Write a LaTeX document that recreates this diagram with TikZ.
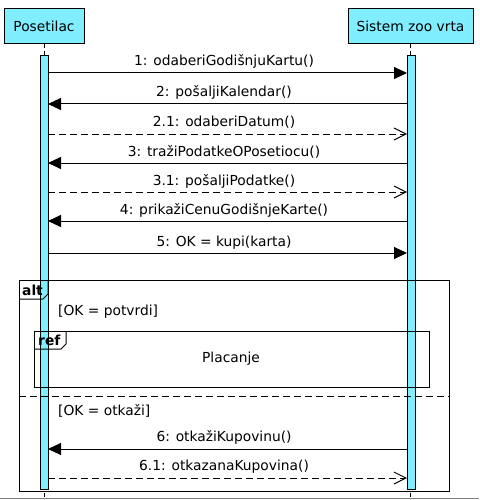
\documentclass[tikz,border=0pt]{standalone}
\usepackage{fontspec}
\setmainfont{DejaVu Sans}
\usetikzlibrary{arrows.meta}
\definecolor{lcyan}{RGB}{128,238,255}
\tikzset{
  part/.style={draw=black, fill=lcyan, line width=1pt, minimum width=80pt, minimum height=35pt, inner sep=0pt, font=\fontsize{13.8}{16}\selectfont},
  actbar/.style={draw=black, fill=lcyan, line width=1pt},
  life/.style={draw=black, line width=1pt, dash pattern=on 4pt off 3pt},
  msg/.style={draw=black, line width=1pt, -{Triangle[length=13pt,width=12pt]}},
  ret/.style={draw=black, line width=1pt, dash pattern=on 7pt off 4pt, -{Straight Barb[length=12pt,width=12pt,line width=1pt]}},
  lbl/.style={font=\fontsize{13.8}{16}\selectfont, inner sep=0pt, anchor=base},
  frame/.style={draw=black, line width=1pt},
  guard/.style={font=\fontsize{13.8}{16}\selectfont, inner sep=0pt, anchor=base west},
  tab/.style={font=\bfseries\fontsize{13.8}{16}\selectfont, inner sep=0pt, anchor=base west}
}
\begin{document}
\begin{tikzpicture}[x=1pt,y=-1pt]
\useasboundingbox (0,0) rectangle (479,500);
\fill[white] (0,0) rectangle (479,500);
% participants
\node[part, minimum width=80pt] (P) at (44,26.5) {Posetilac};
\node[part, minimum width=125pt] (S) at (410.5,26.5) {Sistem zoo vrta};
% lifelines
\coordinate (Pend) at (44,500);
\coordinate (Send) at (410.5,500);
\draw[life] (P.south) -- (Pend);
\draw[life] (S.south) -- (Send);
% activation bars
\node[actbar, minimum width=8pt, minimum height=433pt, inner sep=0pt] (aP) at (44,272.5) {};
\node[actbar, minimum width=8pt, minimum height=433pt, inner sep=0pt] (aS) at (411,272.5) {};
% message coordinates
\foreach \n/\y in {1/73,2/104,21/134,3/163,31/192,4/221,5/253,6/449,61/478}{
  \coordinate (p\n) at (48,\y);
  \coordinate (s\n) at (407,\y);
}
\draw[msg] (p1) -- (s1);
\node[lbl] (l1) at (224,66) {1: odaberiGodišnjuKartu()};
\draw[msg] (s2) -- (p2);
\node[lbl] (l2) at (224,97) {2: pošaljiKalendar()};
\draw[ret] (p21) -- (s21);
\node[lbl] (l21) at (224,126) {2.1: odaberiDatum()};
\draw[msg] (s3) -- (p3);
\node[lbl] (l3) at (224,156) {3: tražiPodatkeOPosetiocu()};
\draw[ret] (p31) -- (s31);
\node[lbl] (l31) at (224,185) {3.1: pošaljiPodatke()};
\draw[msg] (s4) -- (p4);
\node[lbl] (l4) at (224,214) {4: prikažiCenuGodišnjeKarte()};
\draw[msg] (p5) -- (s5);
\node[lbl] (l5) at (224,246) {5: OK = kupi(karta)};
% alt frame
\draw[frame] (19,280) rectangle (449,491);
\draw[frame] (19,299) -- (43,299) -- (48,294) -- (48,280);
\node[tab] (alt) at (22,295) {alt};
\node[guard] (g1) at (58,315) {[OK = potvrdi]};
% ref frame
\draw[frame] (34,331) rectangle (429,387);
\draw[frame] (34,349) -- (61,349) -- (66,344) -- (66,331);
\node[tab] (ref) at (38,345) {ref};
\node[lbl] (plac) at (231,362) {Placanje};
% separator
\draw[frame, dash pattern=on 7pt off 4pt] (19,396) -- (449,396);
\node[guard] (g2) at (58,415) {[OK = otkaži]};
\draw[msg] (s6) -- (p6);
\node[lbl] (l6) at (224,441) {6: otkažiKupovinu()};
\draw[ret] (p61) -- (s61);
\node[lbl] (l61) at (224,470) {6.1: otkazanaKupovina()};
% bottom border
\draw[gray, line width=1.5pt] (0,498.5) -- (479,498.5);
\end{tikzpicture}
\end{document}
